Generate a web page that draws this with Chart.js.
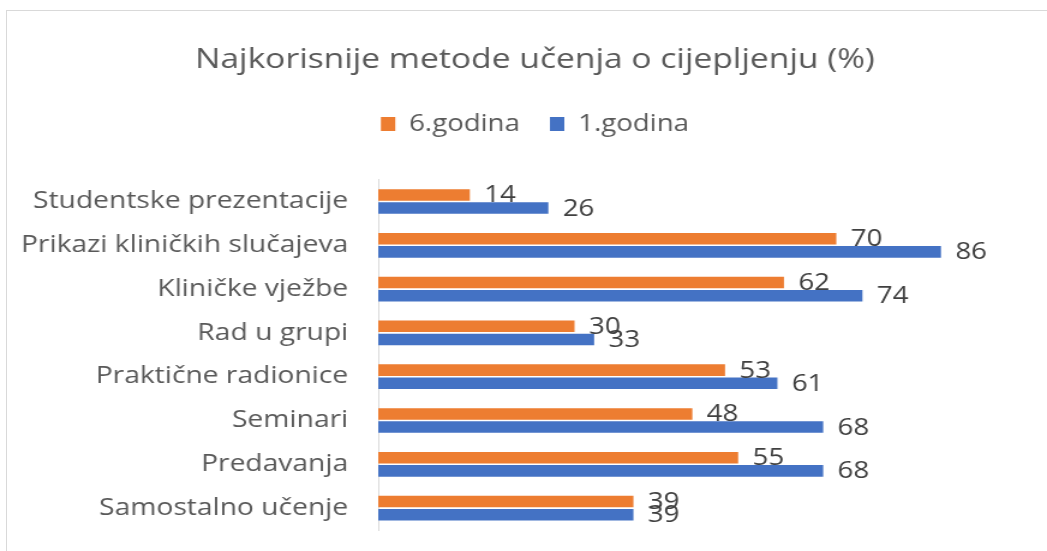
<!DOCTYPE html>
<html>
<head>
<meta charset="utf-8">
<script src="https://cdn.jsdelivr.net/npm/chart.js@4"></script>
<style>
  html, body { margin: 0; padding: 0; background: #fff; overflow: hidden; }
  #frame { position: absolute; left: 6px; top: 10px; width: 1100px; height: 600px; border: 1px solid #d9d9d9; }
  /* the original picture is stretched sideways, so draw narrow and widen */
  #wrap { position: absolute; left: 0; top: 0; width: 872px; height: 551px;
          transform-origin: 0 0; transform: scaleX(1.2007); }
</style>
</head>
<body>
<div id="frame"></div>
<div id="wrap"><canvas id="methodsChart"></canvas></div>
<script>
const categories = [
  "Studentske prezentacije",
  "Prikazi kliničkih slučajeva",
  "Kliničke vježbe",
  "Rad u grupi",
  "Praktične radionice",
  "Seminari",
  "Predavanja",
  "Samostalno učenje"
];
const sixthYear = [14, 70, 62, 30, 53, 48, 55, 39];
const firstYear = [26, 86, 74, 33, 61, 68, 68, 39];

const FONT = "'Open Sans', sans-serif";

// value labels at the end of every bar
const barLabels = {
  id: "barLabels",
  beforeDraw(chart) {
    // long category names reach past the axis box, don't clip them
    chart.scales.y._computeLabelArea = () => undefined;
  },
  afterDatasetsDraw(chart) {
    const ctx = chart.ctx;
    ctx.save();
    ctx.font = "23px " + FONT;
    ctx.fillStyle = "#404040";
    ctx.textAlign = "left";
    ctx.textBaseline = "middle";
    chart.data.datasets.forEach((ds, i) => {
      chart.getDatasetMeta(i).data.forEach((bar, j) => {
        ctx.fillText(ds.data[j], bar.x + 12, bar.y + 1);
      });
    });
    ctx.restore();
  }
};

const ctx = document.getElementById("methodsChart").getContext("2d");
new Chart(ctx, {
  type: "bar",
  data: {
    labels: categories,
    datasets: [
      {
        label: "6.godina",
        data: sixthYear,
        backgroundColor: "#ED7D31",
        barPercentage: 0.88,
        categoryPercentage: 0.6
      },
      {
        label: "1.godina",
        data: firstYear,
        backgroundColor: "#4472C4",
        barPercentage: 0.88,
        categoryPercentage: 0.6
      }
    ]
  },
  options: {
    indexAxis: "y",
    responsive: true,
    maintainAspectRatio: false,
    animation: false,
    layout: { padding: { top: 43, right: 12, bottom: 21, left: 31 } },
    plugins: {
      title: {
        display: true,
        text: "Najkorisnije metode učenja o cijepljenju (%)",
        color: "#595959",
        font: { family: FONT, size: 28, weight: "normal" },
        padding: { top: 0, bottom: 11 }
      },
      legend: {
        display: true,
        position: "top",
        labels: {
          color: "#595959",
          font: { family: FONT, size: 23 },
          boxWidth: 12,
          boxHeight: 14,
          padding: 25
        }
      },
      tooltip: { enabled: false }
    },
    scales: {
      x: {
        position: "top",
        min: 0,
        max: 100,
        // hidden axis, only keeps the gap under the legend
        afterFit(scale) { scale.height = 34; },
        grid: { display: false },
        border: { display: false },
        ticks: { display: false }
      },
      y: {
        afterFit(scale) {
          scale.width = 284;
          scale.paddingTop = 0;
          scale.paddingBottom = 0;
        },
        grid: { display: false, drawTicks: false },
        border: { display: true, color: "#d9d9d9", width: 1 },
        ticks: {
          color: "#595959",
          font: { family: FONT, size: 23.5 },
          padding: 25
        }
      }
    }
  },
  plugins: [barLabels]
});
</script>
</body>
</html>
